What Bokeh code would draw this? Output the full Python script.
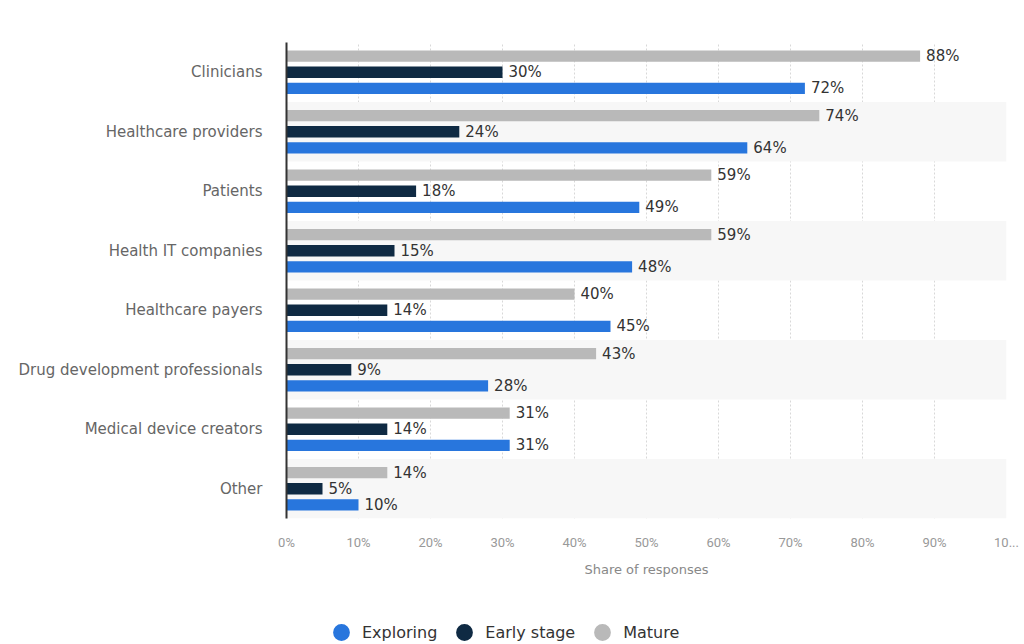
import numpy as np
from bokeh.plotting import figure
from bokeh.models import ColumnDataSource, FactorRange, FixedTicker, Legend, LegendItem, Range1d
from bokeh.layouts import column
from bokeh.transform import dodge
from bokeh.core.properties import value
from bokeh.embed import file_html
from bokeh.resources import INLINE

categories = ["Clinicians", "Healthcare providers", "Patients", "Health IT companies",
              "Healthcare payers", "Drug development professionals", "Medical device creators", "Other"]
exploring = [72, 64, 49, 48, 45, 28, 31, 10]
early_stage = [30, 24, 18, 15, 14, 9, 14, 5]
mature = [88, 74, 59, 59, 40, 43, 31, 14]
x_ticks = [0, 10, 20, 30, 40, 50, 60, 70, 80, 90, 100]
x_tick_labels = ["0%", "10%", "20%", "30%", "40%", "50%", "60%", "70%", "80%", "90%", "10..."]
series_names = ["Exploring", "Early stage", "Mature"]

C_EXP = "#2876dd"
C_EARLY = "#0f2a43"
C_MAT = "#b9b9b9"
FONT = "DejaVu Sans"

src = ColumnDataSource(dict(
    cat=categories, exploring=exploring, early=early_stage, mature=mature,
    exp_lbl=[f"{v}%" for v in exploring],
    early_lbl=[f"{v}%" for v in early_stage],
    mat_lbl=[f"{v}%" for v in mature],
))

W = 1020
p = figure(width=W, height=582, frame_width=720, frame_height=476,
           output_backend="svg", toolbar_location=None,
           y_range=FactorRange(*reversed(categories)), x_range=Range1d(0, 100),
           min_border_left=286, min_border_top=42, min_border_right=14, min_border_bottom=10)
p.outline_line_color = None
p.background_fill_color = "white"

# alternating band shading
shade = [c for i, c in enumerate(categories) if i % 2 == 1]
p.hbar(y=shade, left=0, right=100, height=1.0, fill_color="#f7f7f7", line_color=None)

off = 0.27
h = 0.19
p.hbar(y=dodge("cat", off, range=p.y_range), right="mature", left=0, height=h, source=src,
       fill_color=C_MAT, line_color=None)
p.hbar(y=dodge("cat", 0, range=p.y_range), right="early", left=0, height=h, source=src,
       fill_color=C_EARLY, line_color=None)
p.hbar(y=dodge("cat", -off, range=p.y_range), right="exploring", left=0, height=h, source=src,
       fill_color=C_EXP, line_color=None)

for col, lbl, o in [("mature", "mat_lbl", off), ("early", "early_lbl", 0), ("exploring", "exp_lbl", -off)]:
    p.text(x=col, y=dodge("cat", o, range=p.y_range), text=lbl, source=src,
           x_offset=6, text_baseline="middle", text_align="left",
           text_font=value(FONT), text_font_size="15px", text_font_style="normal",
           text_color="#333333")

# axes
p.xaxis.ticker = FixedTicker(ticks=x_ticks)
p.xaxis.major_label_overrides = {t: l for t, l in zip(x_ticks, x_tick_labels)}
p.xaxis.axis_label = "Share of responses"
p.xaxis.axis_line_color = None
p.xaxis.major_tick_line_color = None
p.xaxis.minor_tick_line_color = None
p.xaxis.major_label_standoff = 10
p.xaxis.major_label_text_font = "Roboto"
p.xaxis.major_label_text_font_size = "13px"
p.xaxis.major_label_text_color = "#999999"
p.xaxis.axis_label_text_font = FONT
p.xaxis.axis_label_text_font_size = "13px"
p.xaxis.axis_label_text_font_style = "normal"
p.xaxis.axis_label_text_color = "#888888"
p.xaxis.axis_label_standoff = 9

p.yaxis.axis_line_color = "#333333"
p.yaxis.axis_line_width = 2
p.yaxis.major_tick_line_color = None
p.yaxis.minor_tick_line_color = None
p.yaxis.major_label_standoff = 18
p.yaxis.major_label_text_font = FONT
p.yaxis.major_label_text_font_size = "15px"
p.yaxis.major_label_text_color = "#666666"

p.xgrid.grid_line_color = "#d8d8d8"
p.xgrid.grid_line_dash = "2 2"
p.ygrid.grid_line_color = None

# legend in its own strip below
lf = figure(width=W, height=62, output_backend="svg", toolbar_location=None,
            x_range=Range1d(0, 1), y_range=Range1d(0, 1),
            x_axis_location=None, y_axis_location=None,
            min_border_left=0, min_border_right=0, min_border_top=0, min_border_bottom=0)
lf.grid.visible = False
lf.outline_line_color = None
rs = [lf.scatter(x=[np.nan], y=[np.nan], marker="circle", size=16, fill_color=c, line_color=None)
      for c in (C_EXP, C_EARLY, C_MAT)]
legend = Legend(items=[LegendItem(label=n, renderers=[r]) for n, r in zip(series_names, rs)],
                orientation="horizontal", location=(34, -12), border_line_color=None,
                background_fill_alpha=0, label_text_font=FONT, label_text_font_size="16px",
                label_text_color="#333333", glyph_width=42, glyph_height=42, spacing=6,
                label_standoff=0, margin=0, padding=2)
lf.add_layout(legend, "center")

open("out.html", "w").write(file_html(column(p, lf, spacing=0), INLINE))
